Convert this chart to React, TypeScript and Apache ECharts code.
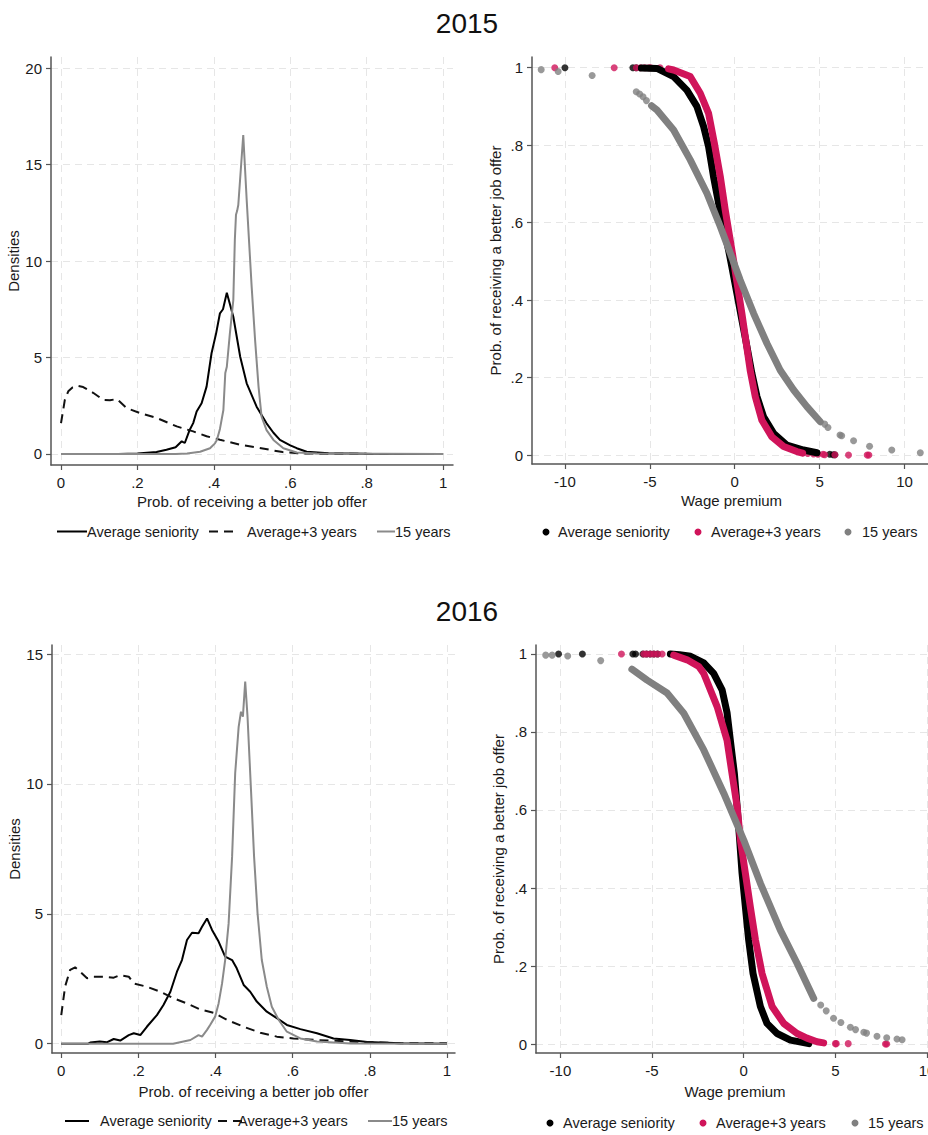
import React, { useEffect, useRef } from 'react';
import * as echarts from 'echarts';

const years = ['2015', '2016'];
const seriesNames = ['Average seniority', 'Average+3 years', '15 years'];
const densXTicks = [0, 0.2, 0.4, 0.6, 0.8, 1];
const dens2015YTicks = [0, 5, 10, 15, 20];
const dens2016YTicks = [0, 5, 10, 15];
const probYTicks = [0, 0.2, 0.4, 0.6, 0.8, 1];
const wageXTicks = [-10, -5, 0, 5, 10];

// 2015 densities: [prob, density]
const dens2015Avg = [
  [0, 0], [0.15, 0], [0.2, 0.02], [0.25, 0.1], [0.276, 0.22], [0.3, 0.35], [0.316, 0.66], [0.324, 0.57],
  [0.337, 1.26], [0.346, 1.6], [0.355, 2.2], [0.368, 2.63], [0.381, 3.49], [0.394, 5.22], [0.406, 6.25],
  [0.416, 7.29], [0.424, 7.5], [0.434, 8.36], [0.451, 7.11], [0.469, 5.04], [0.486, 3.66], [0.512, 2.45],
  [0.538, 1.59], [0.556, 1.1], [0.573, 0.73], [0.6, 0.45], [0.617, 0.3], [0.643, 0.12], [0.7, 0.04],
  [0.8, 0.01], [1, 0],
];
const dens2015Plus3 = [
  [0, 1.6], [0.01, 2.8], [0.019, 3.25], [0.03, 3.45], [0.041, 3.54], [0.058, 3.47], [0.085, 3.16],
  [0.111, 2.8], [0.128, 2.78], [0.146, 2.85], [0.172, 2.38], [0.207, 2.12], [0.25, 1.87], [0.303, 1.43],
  [0.346, 1.17], [0.381, 0.92], [0.416, 0.74], [0.468, 0.48], [0.52, 0.31], [0.58, 0.1], [0.625, 0.03],
  [0.7, 0.01], [1, 0],
];
const dens2015Y15 = [
  [0, 0], [0.3, 0], [0.33, 0.03], [0.364, 0.12], [0.39, 0.3], [0.403, 0.55], [0.408, 0.73], [0.416, 1.3],
  [0.425, 2.28], [0.43, 4.2], [0.434, 4.52], [0.442, 6.25], [0.451, 7.98], [0.455, 11.1], [0.458, 12.4],
  [0.461, 12.6], [0.464, 12.9], [0.477, 16.53], [0.486, 13.16], [0.495, 10.05], [0.499, 8.67],
  [0.508, 5.9], [0.517, 3.49], [0.525, 1.93], [0.538, 1.24], [0.556, 0.73], [0.582, 0.3], [0.617, 0.08],
  [0.67, 0.02], [1, 0],
];

// 2016 densities
const dens2016Avg = [
  [0, 0], [0.07, 0], [0.075, 0.04], [0.1, 0.08], [0.118, 0.05], [0.136, 0.18], [0.153, 0.12], [0.175, 0.33],
  [0.188, 0.4], [0.205, 0.33], [0.222, 0.65], [0.248, 1.1], [0.265, 1.49], [0.283, 2.0], [0.3, 2.77],
  [0.313, 3.22], [0.326, 3.99], [0.339, 4.27], [0.356, 4.25], [0.365, 4.5], [0.378, 4.82], [0.391, 4.38],
  [0.408, 3.93], [0.425, 3.35], [0.443, 3.22], [0.455, 2.9], [0.473, 2.26], [0.49, 2.0], [0.507, 1.62],
  [0.533, 1.23], [0.559, 0.98], [0.585, 0.72], [0.62, 0.56], [0.663, 0.4], [0.706, 0.2], [0.749, 0.14],
  [0.793, 0.06], [0.88, 0.02], [1, 0],
];
const dens2016Plus3 = [
  [0, 1.1], [0.01, 2.2], [0.023, 2.84], [0.036, 2.94], [0.049, 2.77], [0.067, 2.52], [0.084, 2.58],
  [0.11, 2.58], [0.136, 2.54], [0.153, 2.64], [0.175, 2.58], [0.188, 2.32], [0.222, 2.19], [0.257, 2.0],
  [0.291, 1.75], [0.326, 1.55], [0.36, 1.32], [0.395, 1.19], [0.43, 0.91], [0.473, 0.65], [0.516, 0.42],
  [0.559, 0.27], [0.602, 0.2], [0.663, 0.14], [0.749, 0.08], [0.88, 0.02], [1, 0.02],
];
const dens2016Y15 = [
  [0, 0], [0.29, 0], [0.335, 0.14], [0.356, 0.33], [0.365, 0.27], [0.378, 0.53], [0.386, 0.72],
  [0.399, 1.04], [0.408, 1.55], [0.417, 2.32], [0.425, 3.22], [0.434, 4.63], [0.443, 7.2], [0.451, 10.41],
  [0.46, 12.2], [0.466, 12.78], [0.471, 12.59], [0.477, 13.94], [0.483, 12.59], [0.492, 9.77], [0.5, 7.2],
  [0.509, 5.02], [0.52, 3.22], [0.533, 2.19], [0.546, 1.42], [0.564, 0.91], [0.585, 0.46], [0.62, 0.2],
  [0.663, 0.08], [0.75, 0.01], [1, 0],
];

// 2015 wage premium vs probability: dense band + isolated points
const wage2015AvgBand = [
  [-5.5, 0.999], [-4.58, 0.998], [-3.6, 0.977], [-2.82, 0.942], [-2.23, 0.9], [-1.83, 0.848], [-1.54, 0.796],
  [-1.25, 0.719], [-0.95, 0.65], [-0.66, 0.59], [-0.36, 0.529], [-0.17, 0.486], [0.13, 0.417], [0.42, 0.349],
  [0.72, 0.28], [1.01, 0.211], [1.31, 0.151], [1.7, 0.099], [2.29, 0.056], [3.07, 0.026], [4.05, 0.013],
  [4.84, 0.006],
];
const wage2015AvgDots = [[-10, 1], [-6, 1], [-5.8, 1], [5.6, 0.002], [5.8, 0.001], [5.9, 0.001]];
const wage2015Plus3Band = [
  [-3.9, 0.997], [-3.6, 0.994], [-2.62, 0.977], [-2.03, 0.934], [-1.54, 0.882], [-1.2, 0.805], [-0.85, 0.719],
  [-0.56, 0.633], [-0.3, 0.564], [-0.07, 0.503], [0.17, 0.435], [0.42, 0.366], [0.68, 0.288], [0.91, 0.219],
  [1.21, 0.151], [1.6, 0.09], [2.19, 0.047], [2.88, 0.022], [3.66, 0.009], [4.0, 0.005],
];
const wage2015Plus3Dots = [
  [-10.6, 1], [-7.1, 1], [-5.8, 1], [-5.55, 1], [-5.3, 1], [-5.05, 1], [-4.95, 1], [-4.4, 1],
  [4.3, 0.004], [4.64, 0.003], [4.9, 0.002], [5.2, 0.002], [5.3, 0.001], [5.9, 0.001], [6.7, 0], [7.8, 0], [7.9, 0],
];
const wage2015Y15Band = [
  [-4.9, 0.902], [-4.58, 0.891], [-3.6, 0.839], [-2.62, 0.762], [-1.64, 0.676], [-0.85, 0.59], [-0.26, 0.521],
  [0.32, 0.452], [1.11, 0.366], [1.9, 0.288], [2.68, 0.219], [3.47, 0.168], [4.25, 0.125], [5.04, 0.086],
];
const wage2015Y15Dots = [
  [-11.4, 0.995], [-10.4, 0.99], [-8.4, 0.98], [-5.8, 0.938], [-5.6, 0.932], [-5.4, 0.925], [-5.2, 0.915],
  [5.3, 0.08], [5.49, 0.071], [6.2, 0.052], [6.3, 0.05], [7.0, 0.037], [7.94, 0.023], [9.25, 0.013], [10.93, 0.006],
];

// 2016 wage premium vs probability
const wage2016AvgBand = [
  [-4.0, 1], [-3.5, 0.998], [-2.9, 0.994], [-2.18, 0.977], [-1.64, 0.95], [-1.18, 0.908], [-0.91, 0.85],
  [-0.73, 0.779], [-0.51, 0.694], [-0.36, 0.609], [-0.22, 0.523], [-0.09, 0.438], [0.09, 0.352], [0.27, 0.267],
  [0.51, 0.181], [0.91, 0.096], [1.27, 0.053], [1.82, 0.027], [2.55, 0.01], [3.55, 0.001],
];
const wage2016AvgDots = [[-10.1, 1], [-8.8, 1], [-6.05, 1], [-5.9, 1], [-5.5, 1], [-5.3, 1], [-5.1, 1], [-4.9, 1], [-4.7, 1]];
const wage2016Plus3Band = [
  [-3.82, 0.997], [-3.09, 0.985], [-2.45, 0.968], [-2.18, 0.95], [-1.45, 0.865], [-0.91, 0.779], [-0.64, 0.694],
  [-0.36, 0.609], [-0.18, 0.523], [0.09, 0.438], [0.36, 0.352], [0.64, 0.267], [1.0, 0.181], [1.55, 0.096],
  [2.18, 0.053], [2.91, 0.027], [3.45, 0.015], [4.0, 0.006], [4.36, 0.003],
];
const wage2016Plus3Dots = [
  [-6.67, 1], [-5.45, 1], [-5.3, 1], [-5.1, 1], [-4.9, 1], [-4.7, 1], [-4.45, 1],
  [5.0, 0.001], [5.05, 0.001], [5.7, 0.001], [7.73, 0], [7.8, 0],
];
const wage2016Y15Band = [
  [-6.1, 0.961], [-5.27, 0.933], [-4.18, 0.9], [-3.27, 0.848], [-2.18, 0.754], [-1.09, 0.643], [0, 0.523],
  [0.91, 0.412], [2.0, 0.292], [2.91, 0.207], [3.82, 0.117],
];
const wage2016Y15Dots = [
  [-10.8, 0.997], [-10.45, 0.997], [-9.6, 0.995], [-7.8, 0.983], [4.2, 0.1], [4.5, 0.085], [4.9, 0.066],
  [5.3, 0.055], [5.82, 0.043], [6.1, 0.037], [6.55, 0.03], [6.7, 0.028], [7.27, 0.02], [7.8, 0.016],
  [8.36, 0.013], [8.64, 0.011],
];

const FONT = '"Liberation Sans", Arial, sans-serif';
const TEXT = '#1a1a1a';
const AXIS = '#555555';
const GRIDC = '#e6e6e6';
const BLACK = '#000000';
const RED = '#d0145a';
const GRAY = '#8a8a8a';
const DOTGRAY = '#808080';

const fmt = (v: number) => {
  if (v === 0) return '0';
  return String(v).replace(/^(-?)0\./, '$1.');
};

function xAxisCfg(grid: number, min: number, max: number, ticks: number[], name: string, gap: number) {
  return {
    gridIndex: grid, type: 'value', min, max,
    name, nameLocation: 'middle', nameGap: gap,
    nameTextStyle: { fontFamily: FONT, fontSize: 15, color: TEXT },
    axisLine: { show: true, onZero: false, lineStyle: { color: AXIS, width: 1.5 } },
    axisTick: { show: true, customValues: ticks, length: 5, lineStyle: { color: AXIS, width: 1.2 } },
    axisLabel: { customValues: ticks, formatter: fmt, fontFamily: FONT, fontSize: 15, color: TEXT, margin: 10 },
    splitLine: { show: true, lineStyle: { color: GRIDC, width: 1, type: [7, 5] } },
  };
}
function yAxisCfg(grid: number, min: number, max: number, ticks: number[], name: string, gap: number) {
  return {
    gridIndex: grid, type: 'value', min, max,
    name, nameLocation: 'middle', nameGap: gap, nameRotate: 90,
    nameTextStyle: { fontFamily: FONT, fontSize: 15, color: TEXT },
    axisLine: { show: true, onZero: false, lineStyle: { color: AXIS, width: 1.5 } },
    axisTick: { show: true, customValues: ticks, length: 5, lineStyle: { color: AXIS, width: 1.2 } },
    axisLabel: { customValues: ticks, formatter: fmt, fontFamily: FONT, fontSize: 15, color: TEXT, margin: 9 },
    splitLine: { show: true, lineStyle: { color: GRIDC, width: 1, type: [7, 5] } },
  };
}

function densSeries(idx: number, a: number[][], b: number[][], c: number[][]) {
  const base = { type: 'line', xAxisIndex: idx, yAxisIndex: idx, showSymbol: false, symbol: 'none', silent: true };
  return [
    { ...base, name: seriesNames[0], data: a, lineStyle: { color: BLACK, width: 2 } },
    { ...base, name: seriesNames[1], data: b, lineStyle: { color: '#111', width: 2, type: [9, 6] } },
    { ...base, name: seriesNames[2], data: c, lineStyle: { color: GRAY, width: 2 } },
  ];
}
function wageSeries(idx: number, groups: [number[][], number[][], string][]) {
  const out: any[] = [];
  groups.forEach(([band, dots, color], i) => {
    out.push({
      type: 'line', name: seriesNames[i], xAxisIndex: idx, yAxisIndex: idx, data: band, showSymbol: false,
      symbol: 'none', silent: true,
      lineStyle: { color, width: 7, cap: 'round', join: 'round' },
    });
    out.push({
      type: 'scatter', name: seriesNames[i], xAxisIndex: idx, yAxisIndex: idx, data: dots, symbol: 'circle',
      symbolSize: 7, silent: true, itemStyle: { color },
    });
  });
  return out;
}

function lineLegend(y: number, items: { x1: number; x2: number; tx: number; dash?: number[]; color: string }[]) {
  const els: any[] = [];
  items.forEach((it, i) => {
    els.push({
      type: 'line', shape: { x1: it.x1, y1: y, x2: it.x2, y2: y },
      style: { stroke: it.color, lineWidth: 2, lineDash: it.dash || null },
    });
    els.push({
      type: 'text', x: it.tx, y,
      style: { text: seriesNames[i], font: `14.5px ${FONT}`, fill: TEXT, textAlign: 'left', textVerticalAlign: 'middle' },
    });
  });
  return els;
}
function dotLegend(y: number, items: { cx: number; tx: number; color: string }[]) {
  const els: any[] = [];
  items.forEach((it, i) => {
    els.push({ type: 'circle', shape: { cx: it.cx, cy: y, r: 3.5 }, style: { fill: it.color } });
    els.push({
      type: 'text', x: it.tx, y,
      style: { text: seriesNames[i], font: `14.5px ${FONT}`, fill: TEXT, textAlign: 'left', textVerticalAlign: 'middle' },
    });
  });
  return els;
}

export default function App() {
  const ref = useRef<HTMLDivElement>(null);
  useEffect(() => {
    if (!ref.current) return;
    const chart = echarts.init(ref.current, null, { renderer: 'svg' });
    const g = { outerBoundsMode: 'none', containLabel: false };
    const option: any = {
      animation: false,
      backgroundColor: '#ffffff',
      grid: [
        { ...g, left: 51, top: 57, width: 402, height: 408 },
        { ...g, left: 532, top: 57, width: 399, height: 407 },
        { ...g, left: 52, top: 645, width: 403, height: 408 },
        { ...g, left: 536, top: 645, width: 398, height: 408 },
      ],
      xAxis: [
        xAxisCfg(0, -0.0262, 1.026, densXTicks, 'Prob. of receiving a better job offer', 29),
        xAxisCfg(1, -11.94, 11.56, wageXTicks, 'Wage premium', 29),
        xAxisCfg(2, -0.024, 1.021, densXTicks, 'Prob. of receiving a better job offer', 31),
        xAxisCfg(3, -11.33, 10.38, wageXTicks, 'Wage premium', 31),
      ],
      yAxis: [
        yAxisCfg(0, -0.57, 20.57, dens2015YTicks, 'Densities', 22),
        yAxisCfg(1, -0.023, 1.0276, probYTicks, 'Prob. of receiving a better job offer', 29),
        yAxisCfg(2, -0.36, 15.35, dens2016YTicks, 'Densities', 23),
        yAxisCfg(3, -0.023, 1.023, probYTicks, 'Prob. of receiving a better job offer', 30),
      ],
      series: [
        ...densSeries(0, dens2015Avg, dens2015Plus3, dens2015Y15),
        ...wageSeries(1, [
          [wage2015AvgBand, wage2015AvgDots, BLACK],
          [wage2015Plus3Band, wage2015Plus3Dots, RED],
          [wage2015Y15Band, wage2015Y15Dots, DOTGRAY],
        ]),
        ...densSeries(2, dens2016Avg, dens2016Plus3, dens2016Y15),
        ...wageSeries(3, [
          [wage2016AvgBand, wage2016AvgDots, BLACK],
          [wage2016Plus3Band, wage2016Plus3Dots, RED],
          [wage2016Y15Band, wage2016Y15Dots, DOTGRAY],
        ]),
      ],
      graphic: [
        { type: 'text', x: 467, y: 23, style: { text: years[0], font: `28px ${FONT}`, fill: '#111', textAlign: 'center', textVerticalAlign: 'middle' } },
        { type: 'text', x: 467, y: 611, style: { text: years[1], font: `28px ${FONT}`, fill: '#111', textAlign: 'center', textVerticalAlign: 'middle' } },
        ...lineLegend(531.5, [
          { x1: 57, x2: 87, tx: 87, color: BLACK },
          { x1: 209, x2: 234, tx: 247, dash: [9, 6], color: '#111' },
          { x1: 377, x2: 395, tx: 395, color: GRAY },
        ]),
        ...lineLegend(1121, [
          { x1: 65, x2: 89, tx: 100, color: BLACK },
          { x1: 218, x2: 243, tx: 238, dash: [9, 6], color: '#111' },
          { x1: 368, x2: 392, tx: 392, color: GRAY },
        ]),
        ...dotLegend(532, [
          { cx: 546, tx: 558, color: BLACK },
          { cx: 698, tx: 711, color: RED },
          { cx: 848, tx: 862, color: DOTGRAY },
        ]),
        ...dotLegend(1123, [
          { cx: 550, tx: 563, color: BLACK },
          { cx: 703, tx: 716, color: RED },
          { cx: 855, tx: 868, color: DOTGRAY },
        ]),
      ],
    };
    chart.setOption(option);
    return () => chart.dispose();
  }, []);
  return (
    <div
      ref={ref}
      style={{ position: 'absolute', left: 0, top: 0, width: 928, height: 1135, overflow: 'hidden' }}
    />
  );
}
